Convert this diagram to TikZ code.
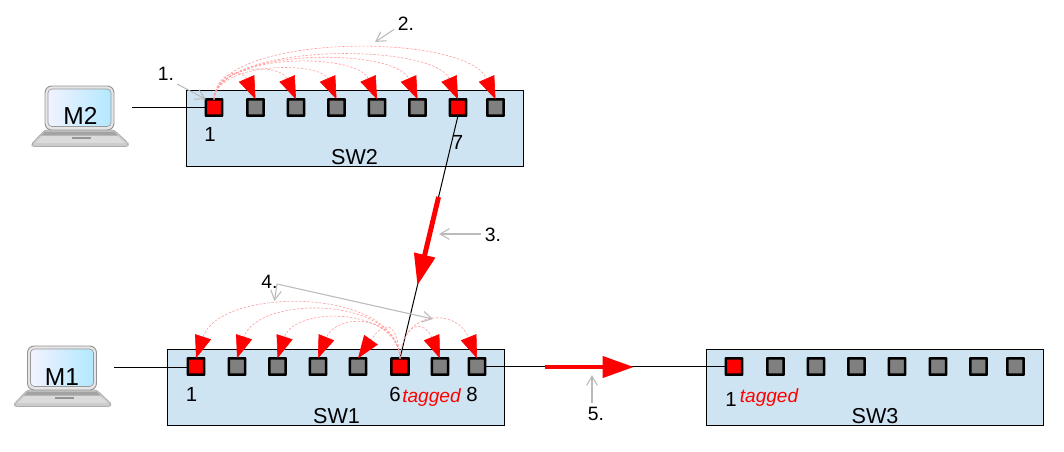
\documentclass[tikz,border=0pt]{standalone}
\usepackage{fontspec}
\setmainfont{Liberation Sans}
\usetikzlibrary{arrows.meta,calc}
\definecolor{swfill}{HTML}{CFE4F3}
\definecolor{greyarrow}{HTML}{BBBBBB}
\definecolor{porthue}{HTML}{808080}
\tikzset{
  swbox/.style={draw=black,line width=0.85pt,fill=swfill,anchor=north west,inner sep=0pt,outer sep=0pt,minimum width=253pt,minimum height=57.2pt},
  port/.style={draw=black,line width=1.9pt,rounded corners=0.3pt,fill=porthue,inner sep=0pt,outer sep=0pt,minimum size=12.3pt},
  redport/.style={port,fill=red},
  lbl/.style={inner sep=0pt,font=\fontsize{15.3pt}{16pt}\selectfont},
  numlbl/.style={inner sep=0pt,font=\fontsize{14.5pt}{15pt}\selectfont},
  swlbl/.style={inner sep=0pt,font=\fontsize{16.2pt}{17pt}\selectfont},
  pclbl/.style={inner sep=0pt,font=\fontsize{18.4pt}{19pt}\selectfont},
  taglbl/.style={inner sep=0pt,text=red,font=\fontsize{14.3pt}{15pt}\selectfont\itshape},
  wire/.style={draw=black,line width=0.75pt},
  thinwire/.style={draw=black,line width=0.75pt},
  greyline/.style={draw=greyarrow,line width=0.8pt,-{Straight Barb[length=7pt,width=8pt,color=greyarrow]}},
  hop/.style={draw=red!38,line width=0.45pt,dash pattern=on 1.8pt off 1.2pt,
     -{Triangle[length=17pt,width=12.5pt,fill=red,color=red]}},
  bigred/.style={draw=red,line width=3.7pt,-{Triangle[length=23.5pt,width=15.5pt,fill=red,color=red]}},
  laptop/.pic={
    \draw[draw=black!32,line width=0.6pt,fill=black!20,rounded corners=2pt]
      (-12.5,57) -- (0,44) -- (69,44) -- (83,57) -- (83.5,60.5) -- (-13.5,60.5) -- cycle;
    \fill[black!14] (-10,57) -- (1,46) -- (68,46) -- (80,57) -- cycle;
    \fill[black!36] (0,45.5) -- (69,45.5) -- (73,49.5) -- (-4,49.5) -- cycle;
    \fill[black!42] (27,50.5) -- (46,50.5) -- (46,52.5) -- (27,52.5) -- cycle;
    \draw[draw=black!42,line width=0.7pt,fill=black!10,rounded corners=5pt] (0,0) rectangle (69,44);
    \shade[left color=blue!5!white,right color=blue!30!cyan!30!white,rounded corners=3pt] (3,3) rectangle (66,40.5);
    \draw[black!40,line width=0.5pt,rounded corners=3pt] (3,3) rectangle (66,40.5);
  }
}
\begin{document}
\begin{tikzpicture}[x=0.75pt,y=-0.75pt]
\useasboundingbox (0,0) rectangle (1064,451);
\fill[white] (0,0) rectangle (1064,451);

% laptops
\pic at (45,86) {laptop};
\pic at (27.5,346) {laptop};
\node[pclbl] (m2) at (80.5,116) {M2};
\node[pclbl] (m1) at (62,377) {M1};

% switches
\node[swbox] (sw2) at (186.5,90.5) {};
\node[swbox] (sw1) at (167.5,349.5) {};
\node[swbox] (sw3) at (706.5,349.5) {};

% ports SW2
\foreach \n/\x in {2/255.5,3/296,4/336.5,5/377,6/417.5,8/495.5}
  \node[port] (a\n) at (\x,107.5) {};
\node[redport] (a1) at (214,107.5) {};
\node[redport] (a7) at (458,107.5) {};
% ports SW1
\foreach \n/\x in {2/237,3/277.5,4/318,5/358,7/440,8/477}
  \node[port] (b\n) at (\x,366.5) {};
\node[redport] (b1) at (196,366.5) {};
\node[redport,minimum width=13pt] (b6) at (400,366.5) {};
% ports SW3
\foreach \n/\x in {2/775.5,3/816,4/856.5,5/897,6/938,7/978.5,8/1015.5}
  \node[port] (c\n) at (\x,366.5) {};
\node[redport] (c1) at (734,366.5) {};

% free ends
\coordinate (pc2) at (132,107.5);
\coordinate (pc1) at (114,367.5);

% wires
\draw[wire] (pc2) -- (a1.west);
\draw[wire] (pc1) -- (pc1 -| b1.west);
\draw[thinwire] (a7.south) -- (b6.north);
\draw[wire] (b8.east) -- (c1.west);

% arcs SW2
\foreach \n/\h in {2/30,3/36,4/38,5/47,6/52,7/57,8/67}
  \draw[hop] (a1.north) .. controls +(3,-\h) and +(-0.43*\h,-\h) .. (a\n.north);
% arcs SW1
\foreach \n/\h/\t in {1/72/0.33,2/63/0.33,3/52/0.33,4/45/0.4,5/38/0.7}
  \draw[hop] (b6.north) .. controls +(-3,-\h) and +(\t*\h,-\h) .. (b\n.north);
\foreach \n/\h in {7/38,8/50}
  \draw[hop] (b6.north) .. controls +(3,-\h) and +(-0.4*\h,-\h) .. (b\n.north);

% big red arrows
\coordinate (r1s) at ($(a7.south)!0.335!(b6.north)$);
\coordinate (r1e) at ($(a7.south)!0.70!(b6.north)$);
\draw[bigred] (r1s) -- (r1e);
\coordinate (r2s) at (545,367);
\coordinate (r2e) at (634,367);
\draw[bigred] (r2s) -- (r2e);

% port labels
\node[lbl] (t1) at (210,134) {1};
\node[lbl] (t2) at (457.5,142) {7};
\node[swlbl] (t3) at (354.5,157.5) {SW2};
\node[lbl] (t4) at (191.5,394.5) {1};
\node[lbl] (t5) at (395,394.5) {6};
\node[taglbl] (t6) at (431.5,397.5) {tagged};
\node[lbl] (t7) at (472,394.5) {8};
\node[swlbl] (t8) at (336.5,416.5) {SW1};
\node[lbl] (t9) at (731,399) {1};
\node[taglbl] (t10) at (769,397.5) {tagged};
\node[swlbl] (t11) at (875,416.5) {SW3};

% numbered callouts
\node[numlbl] (n1) at (166,74) {1.};
\node[numlbl] (n2) at (406,24) {2.};
\node[numlbl] (n3) at (493,235) {3.};
\node[numlbl] (n4) at (269.5,282) {4.};
\node[numlbl] (n5) at (596,414) {5.};
\coordinate (g1a) at (177,84);
\coordinate (g2a) at (394,29.5);
\coordinate (g2b) at (375,42);
\coordinate (g3a) at (481,234);
\coordinate (g3b) at (439,234);
\coordinate (g4a) at (277,284);
\coordinate (g4b) at (274.5,301);
\coordinate (g4c) at (433,319);
\coordinate (g5a) at (592,403);
\coordinate (g5b) at (592,375);
\draw[greyline] (g1a) -- (a1.north west);
\draw[greyline] (g2a) -- (g2b);
\draw[greyline] (g3a) -- (g3b);
\draw[greyline] (g4a) -- (g4b);
\draw[greyline] (g4a) -- (g4c);
\draw[greyline] (g5a) -- (g5b);
\end{tikzpicture}
\end{document}
